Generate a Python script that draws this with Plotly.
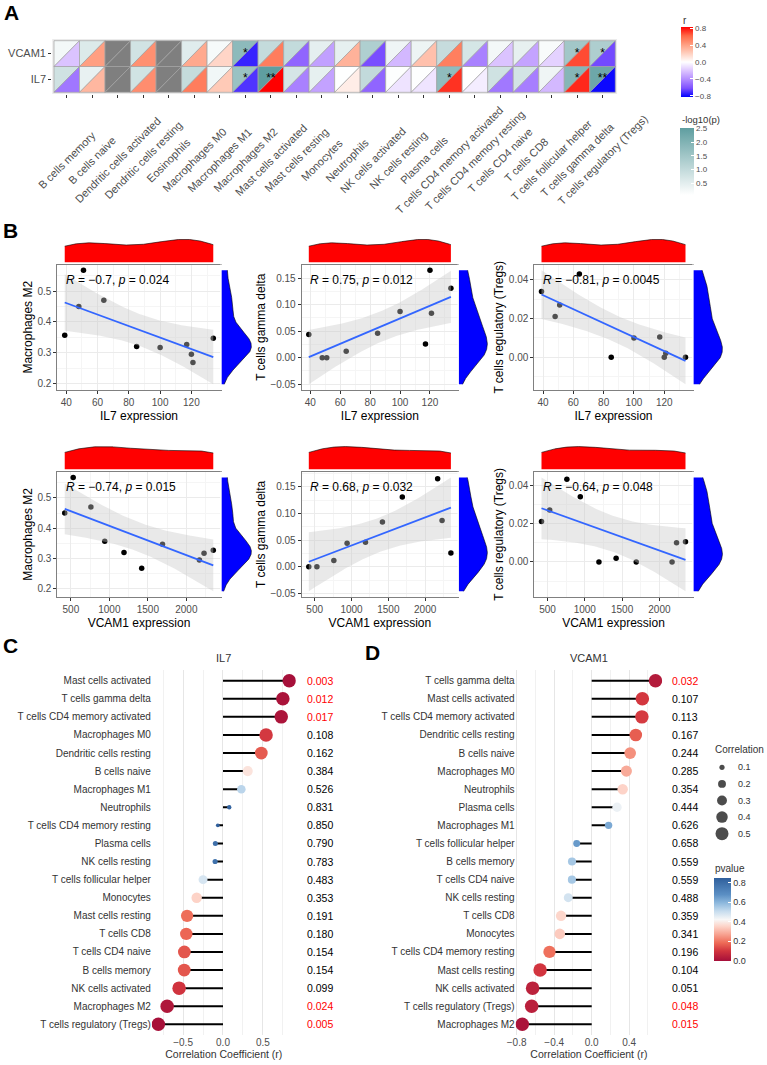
import numpy as np
import plotly.graph_objects as go

W, H = 767, 1065
FONT = "Liberation Sans"

# ---------------- data ----------------
cell_types = [
    "B cells memory", "B cells naive", "Dendritic cells activated", "Dendritic cells resting",
    "Eosinophils", "Macrophages M0", "Macrophages M1", "Macrophages M2",
    "Mast cells activated", "Mast cells resting", "Monocytes", "Neutrophils",
    "NK cells activated", "NK cells resting", "Plasma cells", "T cells CD4 memory activated",
    "T cells CD4 memory resting", "T cells CD4 naive", "T cells CD8", "T cells follicular helper",
    "T cells gamma delta", "T cells regulatory (Tregs)",
]
genes = ["IL7", "VCAM1"]
il7_r = [-0.486, 0.31, None, 0.48, None, 0.54, 0.23, -0.70, 0.83, -0.45, -0.33, 0.078,
         -0.55, -0.099, -0.096, 0.73, -0.065, -0.484, -0.46, -0.25, 0.75, -0.81]
il7_p = [0.154, 0.384, None, 0.162, None, 0.108, 0.526, 0.024, 0.003, 0.191, 0.353, 0.831,
         0.099, 0.783, 0.790, 0.017, 0.850, 0.154, 0.180, 0.483, 0.012, 0.005]
vcam1_r = [-0.21, 0.41, None, 0.47, None, 0.37, 0.18, -0.74, 0.54, -0.55, -0.34, 0.33,
           -0.63, -0.25, 0.27, 0.535, -0.45, -0.211, -0.327, -0.16, 0.68, -0.64]
vcam1_p = [0.559, 0.244, None, 0.167, None, 0.285, 0.626, 0.015, 0.107, 0.104, 0.341, 0.354,
           0.051, 0.488, 0.444, 0.113, 0.196, 0.559, 0.359, 0.658, 0.032, 0.048]

sample_il7 = [39, 48, 51, 64, 85, 100, 117, 120, 121, 134]
sample_vcam1 = [940, 420, 530, 760, 1190, 2230, 2350, 2170, 1420, 1690]
frac_macrophages_m2 = [0.357, 0.450, 0.568, 0.470, 0.320, 0.317, 0.327, 0.295, 0.268, 0.347]
frac_t_gamma_delta = [0.044, 0.000, 0.000, 0.012, 0.046, 0.087, 0.026, 0.165, 0.084, 0.131]
frac_tregs = [0.034, 0.021, 0.027, 0.043, 0.000, 0.010, 0.0105, 0.000, 0.002, 0.000]

cor_labels_il7 = ["<i>R</i> = \u22120.7, <i>p</i> = 0.024",
                  "<i>R</i> = 0.75, <i>p</i> = 0.012",
                  "<i>R</i> = \u22120.81, <i>p</i> = 0.0045"]
cor_labels_vcam1 = ["<i>R</i> = \u22120.74, <i>p</i> = 0.015",
                    "<i>R</i> = 0.68, <i>p</i> = 0.032",
                    "<i>R</i> = \u22120.64, <i>p</i> = 0.048"]

r_ticks = [-0.8, -0.4, 0.0, 0.4, 0.8]
logp_ticks = [0.5, 1.0, 1.5, 2.0, 2.5]
pvalue_ticks = [0.0, 0.2, 0.4, 0.6, 0.8]
size_breaks = [0.1, 0.2, 0.3, 0.4, 0.5]

# ---------------- helpers ----------------
def xd(a, b):
    return [a / W, b / W]

def yd(top, bottom):
    return [1 - bottom / H, 1 - top / H]

def px(x):
    return x / W

def py(y):
    return 1 - y / H

def hex2rgb(h):
    h = h.lstrip('#')
    return tuple(int(h[i:i + 2], 16) for i in (0, 2, 4))

def interp(scale, t):
    t = min(max(t, 0.0), 1.0)
    for (p0, c0), (p1, c1) in zip(scale[:-1], scale[1:]):
        if t <= p1:
            f = (t - p0) / (p1 - p0) if p1 > p0 else 0
            a, b = hex2rgb(c0), hex2rgb(c1)
            return 'rgb(%d,%d,%d)' % tuple(round(a[k] + (b[k] - a[k]) * f) for k in range(3))
    return 'rgb(%d,%d,%d)' % hex2rgb(scale[-1][1])

r_scale = [[0, '#0000FF'], [0.125, '#7E51FF'], [0.25, '#B28BFF'], [0.375, '#DCC4FF'],
           [0.5, '#FFFFFF'], [0.625, '#FFCFBE'], [0.75, '#FF9E81'], [0.875, '#FF6846'], [1, '#FF0000']]
logp_scale = [[0, '#FFFFFF'], [1, '#5F9EA0']]
pv_scale = [[0, '#A50F3A'], [0.12, '#D1343E'], [0.22, '#EE6B57'], [0.33, '#F8A796'],
            [0.42, '#FDD5CA'], [0.5, '#F7F7F7'], [0.6, '#C6DCEE'], [0.7, '#8DB8DD'],
            [0.8, '#5B8FC4'], [1, '#2F5F9C']]
NA_COLOR = '#7F7F7F'

def lm_band(x, y, n=80):
    x = np.asarray(x, float)
    y = np.asarray(y, float)
    b1, b0 = np.polyfit(x, y, 1)
    xs = np.linspace(x.min(), x.max(), n)
    fit = b0 + b1 * xs
    resid = y - (b0 + b1 * x)
    s = np.sqrt(np.sum(resid ** 2) / (len(x) - 2))
    sxx = np.sum((x - x.mean()) ** 2)
    se = s * np.sqrt(1 / len(x) + (xs - x.mean()) ** 2 / sxx)
    t975 = 2.306004  # t quantile, df = 8
    return xs, fit, fit - t975 * se, fit + t975 * se

def kde(v, lo, hi, n=512):
    v = np.asarray(v, float)
    sd = v.std(ddof=1)
    q75, q25 = np.percentile(v, [75, 25])
    spread = min(sd, (q75 - q25) / 1.34) if q75 > q25 else sd
    bw = 0.9 * spread * len(v) ** (-0.2)
    g = np.linspace(lo, hi, n)
    d = np.exp(-0.5 * ((g[:, None] - v[None, :]) / bw) ** 2).sum(1) / (len(v) * bw * np.sqrt(2 * np.pi))
    return g, d

def dot_size(r):
    return float(np.sqrt(np.clip(-9 + 356 * abs(r), 14, 182)))

layout = dict(width=W, height=H, margin=dict(l=0, r=0, t=0, b=0, pad=0, autoexpand=False),
              paper_bgcolor='white', plot_bgcolor='white', showlegend=False,
              font=dict(family=FONT, color='#333333'))
traces, shapes, annotations = [], [], []
n_axes = [0]
HIDDEN = dict(visible=False, fixedrange=True)

def axes(xdom, ydom, xo, yo):
    n_axes[0] += 1
    s = '' if n_axes[0] == 1 else str(n_axes[0])
    layout['xaxis' + s] = dict(domain=xdom, anchor='y' + s, automargin=False, **xo)
    layout['yaxis' + s] = dict(domain=ydom, anchor='x' + s, automargin=False, **yo)
    return 'x' + s, 'y' + s

def letter(txt, x, y):
    annotations.append(dict(text='<b>%s</b>' % txt, x=px(x), y=py(y), xref='paper', yref='paper',
                            showarrow=False, xanchor='center', yanchor='middle',
                            font=dict(size=21, color='black', family=FONT)))

# ---------------- panel A ----------------
ncol = len(cell_types)
cl, cr_, rt, rb = 54.0, 615.3, 40.7, 92.3
colw = (cr_ - cl) / ncol
rowh = (rb - rt) / 2
pad = 0.07
hx, hy = axes(
    xd(cl - pad * colw, cr_ + pad * colw), yd(rt - pad * rowh, rb + pad * rowh),
    dict(range=[-0.5 - pad, ncol - 0.5 + pad], tickvals=list(range(ncol)), showticklabels=False,
         ticks='outside', ticklen=3, tickcolor='#333333', showgrid=False, zeroline=False, fixedrange=True),
    dict(range=[-0.5 - pad, 1.5 + pad], tickvals=[0, 1], ticktext=genes, ticks='outside', ticklen=3,
         tickcolor='#333333', tickfont=dict(size=11, color='#4D4D4D'), showgrid=False, zeroline=False,
         fixedrange=True))
shapes.append(dict(type='rect', xref=hx + ' domain', yref=hy + ' domain', x0=0, x1=1, y0=0, y1=1,
                   fillcolor='#EBEBEB', line=dict(width=0), layer='below'))

gene_r = {"IL7": il7_r, "VCAM1": vcam1_r}
gene_p = {"IL7": il7_p, "VCAM1": vcam1_p}
all_logp = [-np.log10(p) for g in genes for p in gene_p[g] if p is not None]
lmin, lmax = min(all_logp), max(all_logp)
rmax = max(abs(r) for g in genes for r in gene_r[g] if r is not None)

sx, sy, st = [], [], []
for j, g in enumerate(genes):
    for i in range(ncol):
        r, p = gene_r[g][i], gene_p[g][i]
        if r is None:
            cp = crr = NA_COLOR
        else:
            cp = interp(logp_scale, (-np.log10(p) - lmin) / (lmax - lmin))
            crr = interp(r_scale, (r + rmax) / (2 * rmax))
            if p < 0.05:
                sx.append(i)
                sy.append(j)
                st.append('**' if p < 0.01 else '*')
        x0, x1, y0, y1 = i - 0.5, i + 0.5, j - 0.5, j + 0.5
        shapes.append(dict(type='path', xref=hx, yref=hy, layer='below',
                           path=f"M{x0},{y0} L{x0},{y1} L{x1},{y1} Z", fillcolor=cp,
                           line=dict(color='#A3A3A3', width=0.7)))
        shapes.append(dict(type='path', xref=hx, yref=hy, layer='below',
                           path=f"M{x0},{y0} L{x1},{y1} L{x1},{y0} Z", fillcolor=crr,
                           line=dict(color='#A3A3A3', width=0.7)))
traces.append(go.Scatter(x=sx, y=sy, text=st, mode='text', textfont=dict(size=12, color='black'),
                         xaxis=hx, yaxis=hy, hoverinfo='skip'))
for i, name in enumerate(cell_types):
    annotations.append(dict(x=i, xref=hx, y=py(160), yref='paper', text=name, textangle=-45,
                            showarrow=False, xanchor='center', yanchor='middle',
                            font=dict(size=11, color='#4D4D4D')))

traces.append(go.Scatter(
    x=[None], y=[None], xaxis=hx, yaxis=hy, mode='markers', hoverinfo='skip',
    marker=dict(color=[0], colorscale=r_scale, cmin=-rmax, cmax=rmax, showscale=True,
                colorbar=dict(x=px(681), xanchor='left', xpad=0, y=py(27), yanchor='top', ypad=0,
                              len=70, lenmode='pixels', thickness=12, thicknessmode='pixels',
                              tickvals=r_ticks, tickformat='.1f', ticks='inside', ticklen=3,
                              tickcolor='white', outlinewidth=0,
                              tickfont=dict(size=8, color='#4D4D4D')))))
traces.append(go.Scatter(
    x=[None], y=[None], xaxis=hx, yaxis=hy, mode='markers', hoverinfo='skip',
    marker=dict(color=[lmin], colorscale=logp_scale, cmin=lmin, cmax=lmax, showscale=True,
                colorbar=dict(x=px(680), xanchor='left', xpad=0, y=py(128), yanchor='top', ypad=0,
                              len=67, lenmode='pixels', thickness=14, thicknessmode='pixels',
                              tickvals=logp_ticks, tickformat='.1f', ticks='inside', ticklen=3,
                              tickcolor='white', outlinewidth=0,
                              tickfont=dict(size=8, color='#4D4D4D')))))
annotations.append(dict(text='r', x=px(681), y=py(20), xref='paper', yref='paper', showarrow=False,
                        xanchor='left', yanchor='middle', font=dict(size=10, color='#333333')))
annotations.append(dict(text='-log10(p)', x=px(680), y=py(120), xref='paper', yref='paper',
                        showarrow=False, xanchor='left', yanchor='middle',
                        font=dict(size=9.5, color='#333333')))
letter('A', 11, 12.5)

# ---------------- panel B ----------------
row_tops = [264.5, 471.7]
row_bottoms = [390.0, 597.0]
col_lefts = [57.3, 301.7, 534.3]
col_rights = [220.7, 458.0, 692.7]
expr = {"IL7": sample_il7, "VCAM1": sample_vcam1}
cor_labels = {"IL7": cor_labels_il7, "VCAM1": cor_labels_vcam1}
fractions = [("Macrophages M2", frac_macrophages_m2),
             ("T cells gamma delta", frac_t_gamma_delta),
             ("T cells regulatory (Tregs)", frac_tregs)]
x_dticks = {"IL7": 20, "VCAM1": 500}
y_dticks = [0.1, 0.05, 0.02]
y_formats = ['.1f', '.2f', '.2f']
TICKFONT = dict(size=10, color='#4D4D4D')

for ri, gene in enumerate(["IL7", "VCAM1"]):
    top, bot = row_tops[ri], row_bottoms[ri]
    for ci, (cname, vals) in enumerate(fractions):
        left, right = col_lefts[ci], col_rights[ci]
        x = np.asarray(expr[gene], float)
        y = np.asarray(vals, float)
        xs, fit, lo, hi = lm_band(x, y)
        xspan = x.max() - x.min()
        xr = [x.min() - 0.05 * xspan, x.max() + 0.05 * xspan]
        ylo, yhi = min(y.min(), lo.min()), max(y.max(), hi.max())
        yspan = yhi - ylo
        yr = [ylo - 0.05 * yspan, yhi + 0.05 * yspan]
        xdt, ydt = x_dticks[gene], y_dticks[ci]
        mx, my = axes(
            xd(left, right), yd(top, bot),
            dict(range=xr, tick0=0, dtick=xdt, showline=True, mirror=True, linecolor='#808080',
                 linewidth=1, ticks='outside', ticklen=3, tickcolor='#333333', tickfont=TICKFONT,
                 showgrid=True, gridcolor='#EBEBEB', gridwidth=1, zeroline=False,
                 minor=dict(tick0=0, dtick=xdt / 2, showgrid=True, gridcolor='#F5F5F5', gridwidth=0.6),
                 title=dict(text=gene + ' expression', font=dict(size=12, color='black'), standoff=4),
                 fixedrange=True),
            dict(range=yr, tick0=0, dtick=ydt, tickformat=y_formats[ci], showline=True, mirror=True,
                 linecolor='#808080', linewidth=1, ticks='outside', ticklen=3, tickcolor='#333333',
                 tickfont=TICKFONT, showgrid=True, gridcolor='#EBEBEB', gridwidth=1, zeroline=False,
                 minor=dict(tick0=0, dtick=ydt / 2, showgrid=True, gridcolor='#F5F5F5', gridwidth=0.6),
                 title=dict(text=cname, font=dict(size=12, color='black'), standoff=2),
                 fixedrange=True))
        traces.append(go.Scatter(x=x, y=y, mode='markers', xaxis=mx, yaxis=my, hoverinfo='skip',
                                 marker=dict(color='black', size=5.5, line=dict(width=0))))
        traces.append(go.Scatter(x=np.concatenate([xs, xs[::-1]]), y=np.concatenate([hi, lo[::-1]]),
                                 mode='lines', fill='toself', fillcolor='rgba(200,200,200,0.4)',
                                 line=dict(width=0), xaxis=mx, yaxis=my, hoverinfo='skip'))
        traces.append(go.Scatter(x=xs, y=fit, mode='lines', line=dict(color='#3366FF', width=1.8),
                                 xaxis=mx, yaxis=my, hoverinfo='skip'))
        h = bot - top
        annotations.append(dict(text=cor_labels[gene][ci], x=0.042, y=1 - 15.5 / h,
                                xref=mx + ' domain', yref=my + ' domain', showarrow=False,
                                xanchor='left', yanchor='middle', font=dict(size=12, color='black')))
        # top marginal density
        gx, dxv = kde(x, x.min(), x.max())
        tx, ty = axes(xd(left, right), yd(top - 1.2 - 0.2 * h, top - 1.2),
                      dict(range=xr, **HIDDEN),
                      dict(range=[-0.05 * dxv.max(), 1.05 * dxv.max()], **HIDDEN))
        traces.append(go.Scatter(x=gx, y=dxv, mode='lines', fill='tozeroy', fillcolor='#FF0000',
                                 line=dict(color='black', width=0.6), xaxis=tx, yaxis=ty,
                                 hoverinfo='skip'))
        # right marginal density
        gy, dyv = kde(y, ylo, yhi)
        w = right - left
        sxa, sya = axes(xd(right - 0.5, right - 0.5 + 0.2 * w), yd(top, bot),
                        dict(range=[-0.05 * dyv.max(), 1.05 * dyv.max()], **HIDDEN),
                        dict(range=yr, **HIDDEN))
        traces.append(go.Scatter(x=dyv, y=gy, mode='lines', fill='tozerox', fillcolor='#0000FF',
                                 line=dict(color='black', width=0.6), xaxis=sxa, yaxis=sya,
                                 hoverinfo='skip'))
letter('B', 10.5, 230.5)

# ---------------- panels C and D ----------------
all_p = [p for g in genes for p in gene_p[g] if p is not None]
PMIN, PMAX = min(min(all_p), pvalue_ticks[0]), max(all_p)
row_first, row_last = 680.7, 1024.3
n_rows = sum(1 for r in il7_r if r is not None)
rstep = (row_last - row_first) / (n_rows - 1)
ytop_px = row_first - 0.6 * rstep
ybot_px = row_last + 0.6 * rstep
lolli = [
    dict(gene="IL7", zero_px=223.0, scale=79.8, dtick=0.5, pv_x=305, title_y=658, letter=('C', 10, 645.5),
         showscale=False),
    dict(gene="VCAM1", zero_px=591.7, scale=93.8, dtick=0.4, pv_x=670, title_y=658,
         letter=('D', 372, 652.5), showscale=True),
]
for spec in lolli:
    g = spec['gene']
    idx = [k for k in range(ncol) if gene_r[g][k] is not None]
    idx.sort(key=lambda k: -gene_r[g][k])
    rs = [gene_r[g][k] for k in idx]
    ps = [gene_p[g][k] for k in idx]
    names = [cell_types[k] for k in idx]
    pos = list(range(len(idx)))
    lo_r, hi_r = min(min(rs), 0), max(max(rs), 0)
    span = hi_r - lo_r
    xr = [lo_r - 0.05 * span, hi_r + 0.05 * span]
    x_left = spec['zero_px'] + xr[0] * spec['scale']
    x_right = spec['zero_px'] + xr[1] * spec['scale']
    ax, ay = axes(
        xd(x_left, x_right), yd(ytop_px, ybot_px),
        dict(range=xr, tick0=0, dtick=spec['dtick'], tickformat='.1f', showgrid=True,
             gridcolor='#E6E6E6', gridwidth=1, zeroline=False, ticks='',
             minor=dict(tick0=0, dtick=spec['dtick'] / 2, showgrid=True, gridcolor='#F1F1F1',
                        gridwidth=1),
             tickfont=dict(size=10, color='#4D4D4D'),
             title=dict(text='Correlation Coefficient (r)', font=dict(size=10.5, color='#333333'),
                        standoff=2), fixedrange=True),
        dict(range=[len(idx) - 1 + 0.6, -0.6], tickvals=pos, ticktext=names, showgrid=False,
             zeroline=False, ticks='', tickfont=dict(size=10, color='#333333'), fixedrange=True))
    segx, segy = [], []
    for r, k in zip(rs, pos):
        segx += [0, r, None]
        segy += [k, k, None]
    traces.append(go.Scatter(x=segx, y=segy, mode='lines', line=dict(color='black', width=2),
                             xaxis=ax, yaxis=ay, hoverinfo='skip'))
    marker = dict(size=[dot_size(r) for r in rs], color=ps, colorscale=pv_scale, cmin=PMIN, cmax=PMAX,
                  line=dict(width=0), opacity=1, showscale=spec['showscale'])
    if spec['showscale']:
        marker['colorbar'] = dict(x=px(714), xanchor='left', xpad=0, y=py(877.7), yanchor='top', ypad=0,
                                  len=82.5, lenmode='pixels', thickness=16.7, thicknessmode='pixels',
                                  tickvals=pvalue_ticks, tickformat='.1f', ticks='inside', ticklen=3,
                                  tickcolor='white', outlinewidth=0,
                                  tickfont=dict(size=9, color='#333333'))
    traces.append(go.Scatter(x=rs, y=pos, mode='markers', marker=marker, xaxis=ax, yaxis=ay,
                             hoverinfo='skip'))
    for p, k in zip(ps, pos):
        annotations.append(dict(text='%.3f' % p, x=px(spec['pv_x']), y=k, xref='paper', yref=ay,
                                showarrow=False, xanchor='left', yanchor='middle',
                                font=dict(size=10.5, color='#FF0000' if p < 0.05 else 'black')))
    annotations.append(dict(text=g, x=(x_left + x_right) / 2 / W, y=py(spec['title_y']), xref='paper',
                            yref='paper', showarrow=False, xanchor='center', yanchor='middle',
                            font=dict(size=11, color='#333333')))
    letter(*spec['letter'])

# size legend
lx, ly = axes(xd(712, 732), yd(759, 842),
              dict(range=[0, 1], **HIDDEN), dict(range=[0.55, 0.05], **HIDDEN))
traces.append(go.Scatter(x=[0.5] * len(size_breaks), y=size_breaks, mode='markers', xaxis=lx, yaxis=ly,
                         marker=dict(color='black', size=[dot_size(b) for b in size_breaks],
                                     line=dict(width=0)), hoverinfo='skip'))
for b in size_breaks:
    annotations.append(dict(text='%.1f' % b, x=px(735.7), y=b, xref='paper', yref=ly, showarrow=False,
                            xanchor='left', yanchor='middle', font=dict(size=9, color='#333333')))
annotations.append(dict(text='Correlation', x=px(713), y=py(749), xref='paper', yref='paper',
                        showarrow=False, xanchor='left', yanchor='middle',
                        font=dict(size=10, color='#333333')))
annotations.append(dict(text='pvalue', x=px(713), y=py(868), xref='paper', yref='paper',
                        showarrow=False, xanchor='left', yanchor='middle',
                        font=dict(size=10, color='#333333')))

layout['shapes'] = shapes
layout['annotations'] = annotations
fig = go.Figure(data=traces)
fig.update_layout(**layout)
fig.write_html("out.html", config={'displayModeBar': False},
               post_script="document.body.style.margin='0px';")
